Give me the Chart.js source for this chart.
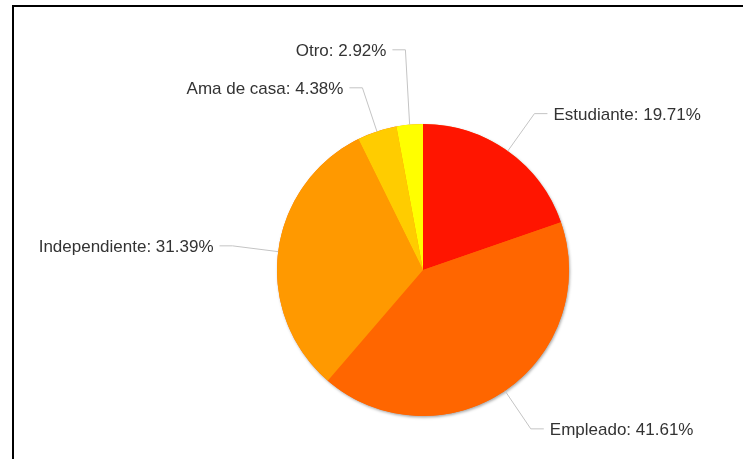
<!DOCTYPE html>
<html lang="es">
<head>
<meta charset="utf-8">
<title>Ocupación</title>
<script src="https://cdn.jsdelivr.net/npm/chart.js@4.4.0/dist/chart.umd.min.js"></script>
<style>
  html,body{margin:0;padding:0;background:#fff;overflow:hidden;}
  .frame{position:absolute;left:12px;top:5px;width:760px;height:480px;border-left:2px solid #000;border-top:2px solid #000;}
  #pie{position:absolute;left:0;top:0;}
</style>
</head>
<body>
<div class="frame"></div>
<canvas id="pie" width="743" height="459"></canvas>
<script>
// ==== DOM取得ショートカット ====
const $ = (s) => document.querySelector(s);

/* ===== データ ===== */
const LABELS = ['Estudiante', 'Empleado', 'Independiente', 'Ama de casa', 'Otro'];
const VALUES = [19.71, 41.61, 31.39, 4.38, 2.92];
const COLORS = ['#ff1500', '#ff6600', '#ff9900', '#ffcc00', '#ffff00'];

/* ===== 設定 ===== */
const LABEL_DIST = 46;   // 円の縁 → 折れ点
const LABEL_GAP  = 38;   // 同じ側のラベル同士の最小間隔
const LINE_LEN   = 13;   // 折れ点からの水平線
const TEXT_PAD   = 6;
const LABEL_FONT = '17px "Liberation Sans", Arial, Helvetica, sans-serif';

/* ===== 円の下の影 ===== */
const shadowPlugin = {
  id: 'pieShadow',
  beforeDatasetsDraw(c) {
    const arc = c.getDatasetMeta(0).data[0];
    if (!arc) return;
    const ctx = c.ctx;
    ctx.save();
    ctx.shadowColor = 'rgba(0,0,0,0.35)';
    ctx.shadowBlur = 3;
    ctx.shadowOffsetX = 1;
    ctx.shadowOffsetY = 1.5;
    ctx.fillStyle = COLORS[1];
    ctx.beginPath();
    ctx.arc(arc.x, arc.y, arc.outerRadius, 0, Math.PI * 2);
    ctx.fill();
    ctx.restore();
  }
};

/* ===== ラベル＋引き出し線 ===== */
const sliceLabelPlugin = {
  id: 'sliceLabel',
  afterDatasetsDraw(c) {
    const meta = c.getDatasetMeta(0);
    const data = c.data.datasets[0].data;
    const items = meta.data.map((el, i) => {
      const mid = (el.startAngle + el.endAngle) / 2;
      const cos = Math.cos(mid), sin = Math.sin(mid);
      const R = el.outerRadius + LABEL_DIST;
      return {
        text: `${c.data.labels[i]}: ${data[i].toFixed(2)}%`,
        right: cos >= 0,
        ex: el.x + el.outerRadius * cos,
        ey: el.y + el.outerRadius * sin,
        bx: el.x + R * cos,
        y:  el.y + R * sin
      };
    });

    // 重なり回避：下のラベルを基準に上へ押し上げる
    [true, false].forEach(side => {
      const list = items.filter(it => it.right === side).sort((a, b) => a.y - b.y);
      for (let i = list.length - 2; i >= 0; i--) {
        list[i].y = Math.min(list[i].y, list[i + 1].y - LABEL_GAP);
      }
    });

    const ctx = c.ctx;
    ctx.save();
    ctx.font = LABEL_FONT;
    ctx.textBaseline = 'middle';
    items.forEach(it => {
      const dir = it.right ? 1 : -1;
      ctx.strokeStyle = '#c4c4c4';
      ctx.lineWidth = 1;
      ctx.beginPath();
      ctx.moveTo(it.ex, it.ey);
      ctx.lineTo(it.bx, it.y);
      ctx.lineTo(it.bx + dir * LINE_LEN, it.y);
      ctx.stroke();

      ctx.fillStyle = '#333333';
      ctx.textAlign = it.right ? 'left' : 'right';
      ctx.fillText(it.text, it.bx + dir * (LINE_LEN + TEXT_PAD), it.y + 1.5);
    });
    ctx.restore();
  }
};

/* ===== グラフ ===== */
new Chart($('#pie').getContext('2d'), {
  type: 'pie',
  data: {
    labels: LABELS,
    datasets: [{
      data: VALUES,
      backgroundColor: COLORS,
      borderWidth: 0,
      hoverOffset: 0
    }]
  },
  options: {
    responsive: false,
    animation: false,
    events: [],
    layout: { padding: { left: 277, right: 174, top: 124, bottom: 43 } },
    plugins: {
      legend: { display: false },
      tooltip: { enabled: false }
    }
  },
  plugins: [shadowPlugin, sliceLabelPlugin]
});
</script>
</body>
</html>
